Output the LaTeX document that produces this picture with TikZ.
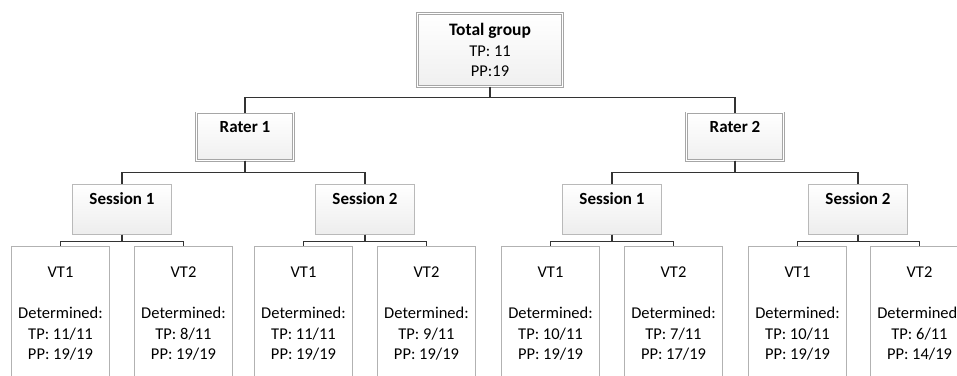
\documentclass[tikz,border=0pt]{standalone}
\usepackage{fontspec}
\setmainfont{Carlito}
\tikzset{
  every node/.style={font=\fontsize{16.5}{20.5}\selectfont},
  topbox/.style={draw=gray!70, line width=0.7pt, double=white, double distance=1.2pt,
    top color=white, bottom color=gray!12, align=center,
    minimum width=145pt, minimum height=73pt, inner sep=0pt},
  raterbox/.style={draw=gray!70, line width=0.7pt, double=white, double distance=1.2pt,
    top color=white, bottom color=gray!12, anchor=north,
    minimum width=97pt, text height=19.5pt, text depth=28pt, inner sep=0pt,
    font=\fontsize{17}{20.5}\selectfont\bfseries},
  sessbox/.style={draw=gray!55, line width=0.7pt, top color=white, bottom color=gray!14,
    anchor=north, minimum width=99pt, text height=20.5pt, text depth=29.5pt,
    inner sep=0pt, font=\fontsize{17}{20.5}\selectfont\bfseries},
  vtbox/.style={draw=gray!60, line width=0.7pt, fill=white, anchor=north, align=center,
    minimum width=98pt, minimum height=135pt, inner sep=0pt},
  link/.style={draw=gray!40!black, line width=1.2pt}
}
\begin{document}
\begin{tikzpicture}[x=1pt, y=-1pt]

  \clip (0,0) rectangle (957,375);

  % top
  \node [topbox] (tot) at (490,50) {\fontsize{17.5}{20.5}\selectfont\textbf{Total group}\\TP: 11\\PP:19};

  % raters
  \node [raterbox] (r1) at (245,112.5) {Rater 1};
  \node [raterbox] (r2) at (735,112.5) {Rater 2};

  % sessions
  \node [sessbox] (r1s1) at (122,184) {Session 1};
  \node [sessbox] (r1s2) at (365,184) {Session 2};
  \node [sessbox] (r2s1) at (612,184) {Session 1};
  \node [sessbox] (r2s2) at (858,184) {Session 2};

  % video tasks
  \node [vtbox] (r1s1a) at (60.5,246) {VT1\\[20.5pt]Determined:\\TP: 11/11\\PP: 19/19};
  \node [vtbox] (r1s1b) at (183.5,246) {VT2\\[20.5pt]Determined:\\TP: 8/11\\PP: 19/19};
  \node [vtbox] (r1s2a) at (303.5,246) {VT1\\[20.5pt]Determined:\\TP: 11/11\\PP: 19/19};
  \node [vtbox] (r1s2b) at (426.5,246) {VT2\\[20.5pt]Determined:\\TP: 9/11\\PP: 19/19};
  \node [vtbox] (r2s1a) at (550.5,246) {VT1\\[20.5pt]Determined:\\TP: 10/11\\PP: 19/19};
  \node [vtbox] (r2s1b) at (673.5,246) {VT2\\[20.5pt]Determined:\\TP: 7/11\\PP: 17/19};
  \node [vtbox] (r2s2a) at (797.5,246) {VT1\\[20.5pt]Determined:\\TP: 10/11\\PP: 19/19};
  \node [vtbox] (r2s2b) at (919.5,246) {VT2\\[20.5pt]Determined:\\TP: 6/11\\PP: 14/19};

  % links
  \foreach \c in {r1,r2}
    \draw [link] (tot.south) -- ++(0,11) -| (\c.north);
  \foreach \p in {r1,r2}
    \foreach \c in {s1,s2}
      \draw [link] (\p.south) -- ++(0,12) -| (\p\c.north);
  \foreach \p in {r1s1,r1s2,r2s1,r2s2}
    \foreach \c in {a,b}
      \draw [link] (\p.south) -- ++(0,7) -| (\p\c.north);

\end{tikzpicture}
\end{document}
